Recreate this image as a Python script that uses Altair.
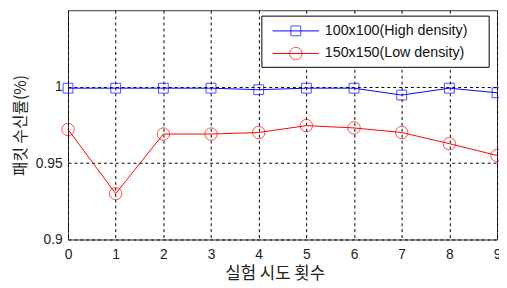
import altair as alt
import pandas as pd

# ---- data ----
trials = list(range(10))
high_density = [0.999, 0.999, 0.999, 0.999, 0.998, 0.999, 0.999, 0.9945, 0.999, 0.996]
low_density = [0.972, 0.930, 0.969, 0.969, 0.970, 0.9745, 0.973, 0.970, 0.9627, 0.955]
series = ["100x100(High density)", "150x150(Low density)"]
colors = ["#0000ff", "#ff0000"]
shapes = ["square", "circle"]
y_ticks = [0.9, 0.95, 1.0]

df = pd.DataFrame({
    "trial": trials * 2,
    "rate": high_density + low_density,
    "series": [series[0]] * len(trials) + [series[1]] * len(trials),
})

W, H = 436, 233
NUM_FONT = "Liberation Sans"
KR_FONT = "Noto Sans CJK KR"

x_enc = alt.X(
    "trial:Q",
    scale=alt.Scale(domain=[0, 9], nice=False, zero=False),
    axis=alt.Axis(values=trials, title="실험 시도 횟수", labelFlush=False,
                  labelOverlap=False, labelPadding=8, titlePadding=5,
                  titleX=210, titleAlign="center"),
)
y_enc = alt.Y(
    "rate:Q",
    scale=alt.Scale(domain=[0.9, 1.05], nice=False, zero=False),
    axis=alt.Axis(values=y_ticks, format="~g", title="패킷 수신률(%)",
                  labelPadding=6, titlePadding=7, labelFlush=False,
                  titleFontSize=16),
)
color_enc = alt.Color("series:N", scale=alt.Scale(domain=series, range=colors), legend=None)
shape_enc = alt.Shape("series:N", scale=alt.Scale(domain=series, range=shapes), legend=None)

base = alt.Chart(df)
lines = base.mark_line(strokeWidth=1).encode(x=x_enc, y=y_enc, color=color_enc, detail="series:N")
points = base.mark_point(filled=False, strokeWidth=1).encode(
    x="trial:Q", y="rate:Q", color=color_enc, shape=shape_enc,
    size=alt.Size("series:N", scale=alt.Scale(domain=series, range=[100, 160]), legend=None),
)

# ---- manual legend box ----
legend_layers = []
box = alt.Chart(pd.DataFrame({"k": [0]})).mark_rect(fill="white", stroke="black", strokeWidth=1).encode(
    x=alt.value(197), x2=alt.value(428), y=alt.value(6), y2=alt.value(58))
legend_layers.append(box)
row_y = [21, 44]
sym_sizes = [100, 160]
for i, name in enumerate(series):
    d = pd.DataFrame({"label": [name]})
    legend_layers.append(alt.Chart(d).mark_rule(color=colors[i], strokeWidth=1).encode(
        x=alt.value(208), x2=alt.value(255), y=alt.value(row_y[i])))
    legend_layers.append(alt.Chart(d).mark_point(shape=shapes[i], filled=False, color=colors[i],
                                                 size=sym_sizes[i], strokeWidth=1).encode(
        x=alt.value(231.5), y=alt.value(row_y[i])))
    legend_layers.append(alt.Chart(d).mark_text(align="left", baseline="middle", font=NUM_FONT,
                                                fontSize=14.5, color="#111").encode(
        x=alt.value(261), y=alt.value(row_y[i]), text="label:N"))

chart = alt.layer(lines, points, *legend_layers).properties(
    width=W, height=H,
    autosize=alt.AutoSizeParams(type="none"),
    padding={"left": 61, "top": 0, "right": 2, "bottom": 46},
).configure_view(
    stroke="#333", strokeWidth=1
).configure_axis(
    domain=False, ticks=False, grid=True, gridColor="#000", gridDash=[3, 3], gridWidth=1,
    gridOpacity=1, labelFont=NUM_FONT, labelFontSize=14, labelColor="#222",
    titleFont=KR_FONT, titleFontSize=17, titleFontWeight="normal", titleColor="#222",
)

chart.save("out.html", embed_options={"renderer": "svg", "actions": False})
